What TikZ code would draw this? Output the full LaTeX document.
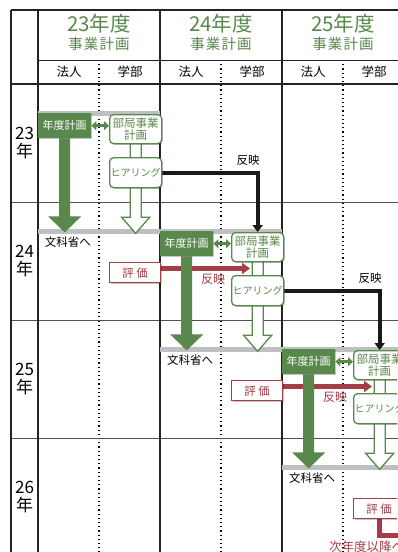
\documentclass[tikz,border=0pt]{standalone}
\usepackage{fontspec}
\setmainfont{Noto Sans CJK JP}
\newfontfamily\hdrfont[LetterSpace=8]{Noto Sans CJK JP}
\usetikzlibrary{arrows.meta,shadows,calc}
\pgfdeclarelayer{bg}
\pgfdeclarelayer{mid}
\pgfsetlayers{bg,mid,main}
\definecolor{grn}{RGB}{89,136,76}
\definecolor{rd}{RGB}{163,62,70}
\definecolor{bandc}{RGB}{190,191,194}
\definecolor{framec}{RGB}{35,35,35}
\definecolor{rowc}{RGB}{80,80,80}
\begin{document}
\begin{tikzpicture}[x=1pt,y=-1pt,
  shad/.style={drop shadow={shadow xshift=1.2pt,shadow yshift=-1.2pt,opacity=0.22,fill=black}},
  nenbox/.style={fill=grn,text=white,minimum width=53pt,minimum height=25pt,inner sep=0pt,
    font=\fontsize{11}{12}\selectfont,shad,anchor=north west},
  bubox/.style={draw=grn,line width=1.3pt,fill=white,rounded corners=4pt,minimum width=52pt,
    minimum height=29pt,inner sep=0pt,align=center,text=grn,
    font=\fontsize{11.5}{12}\selectfont,shad,anchor=north west},
  hibox/.style={bubox,minimum height=30pt,font=\fontsize{10}{11}\selectfont},
  hyobox/.style={draw=rd,line width=1.3pt,fill=white,text=rd,minimum width=51pt,minimum height=20pt,
    inner sep=0pt,font=\fontsize{11.5}{12}\selectfont,shad,anchor=north west},
  txt/.style={inner sep=0pt,font=\fontsize{11.5}{12}\selectfont},
  rtxt/.style={txt,text=rd,font=\fontsize{12}{12}\selectfont},
  hdr/.style={inner sep=0pt,text=grn,font=\fontsize{20.5}{22}\selectfont},
  hdrsub/.style={inner sep=0pt,text=grn,font=\fontsize{14.5}{15}\hdrfont},
  subh/.style={inner sep=0pt,font=\fontsize{12.5}{13}\selectfont},
  rowlab/.style={inner sep=0pt,align=center,font=\fontsize{17}{18}\selectfont},
  frm/.style={draw=framec,line width=1.8pt},
  dotl/.style={draw=black,line width=1.3pt,dash pattern=on 1.2pt off 3pt},
  blkarr/.style={draw=black!90,line width=4pt,line join=miter,-{Triangle[length=7pt,width=10pt]}},
  redarr/.style={draw=rd,line width=4.5pt,-{Triangle[length=8pt,width=11pt]}},
  dblarr/.style={draw=grn,line width=3pt,{Triangle[length=5pt,width=9pt]}-{Triangle[length=5pt,width=9pt]}},
]
\useasboundingbox (0,0) rectangle (397,552);
\clip (0,0) rectangle (397,552);

% ---------- grid ----------
\begin{pgfonlayer}{bg}
  \fill[white] (0,0) rectangle (397,552);
  \foreach \x in {99,221,343} \draw[dotl] (\x,60) -- (\x,560);
  \foreach \y in {202,320,438} \draw[rowc,line width=1pt] (11,\y) -- (420,\y);
  \draw[framec,line width=1pt] (38,60) -- (420,60);
  \draw[framec,line width=2pt] (11,84) -- (420,84);
  \draw[framec,line width=2pt] (11,10) -- (420,10);
  \foreach \x in {11,38,160,282,404} \draw[frm] (\x,10) -- (\x,560);
  \foreach \k in {0,1,2}{
    \pgfmathsetmacro\dx{122*\k}
    \pgfmathsetmacro\dy{118*\k}
    \fill[bandc] ({38+\dx},{111+\dy}) rectangle ({160+\dx},{116+\dy});
    \fill[bandc] ({38+\dx},{229+\dy}) rectangle ({160+\dx},{234+\dy});
  }
\end{pgfonlayer}

% ---------- headers ----------
\foreach \k/\yr in {0/23,1/24,2/25}{
  \node[hdr] (hy\k) at ({99+122*\k},24) {\yr 年度};
  \node[hdrsub] (hs\k) at ({99+122*\k},44) {事業計画};
  \node[subh] (hh\k) at ({69+122*\k},72) {法人};
  \node[subh] (hg\k) at ({130+122*\k},72) {学部};
}
\foreach \j/\yr in {0/23,1/24,2/25,3/26}{
  \node[rowlab] (rl\j) at (24.5,{143+118*\j}) {\yr\\年};
}

% ---------- boxes ----------
\foreach \k in {0,1,2}{
  \pgfmathsetmacro\dx{122*\k}
  \pgfmathsetmacro\dy{118*\k}
  \node[nenbox] (nen\k) at ({38+\dx},{113+\dy}) {年度計画};
  \node[bubox] (bu\k) at ({109+\dx},{114+\dy}) {部局事業\\計画};
  \node[hibox] (hi\k) at ({109+\dx},{157+\dy}) {ヒアリング};
  \node[txt] (mon\k) at ({68+\dx},{242+\dy}) {文科省へ};
}
\foreach \j in {1,2,3}{
  \pgfmathsetmacro\dx{122*(\j-1)}
  \pgfmathsetmacro\dy{118*(\j-1)}
  \node[hyobox] (hyo\j) at ({109+\dx},{262+\dy}) {評\hspace{2.5pt}価};
}

% ---------- arrows ----------
\begin{pgfonlayer}{mid}
  % red evaluation arrows
  \foreach \j in {1,2}{
    \pgfmathsetmacro\dx{122*(\j-1)}
    \pgfmathsetmacro\dy{118*(\j-1)}
    \coordinate (rt\j) at ({250+\dx},{268.5+\dy});
    \draw[redarr] (hyo\j.east |- rt\j) -- (rt\j);
    \node[rtxt] (rh\j) at ({213+\dx},{279+\dy}) {反映};
  }
  \coordinate (nextc) at (430,535);
  \draw[draw=rd,line width=5pt,line join=miter] (hyo3.south) |- (nextc);
  \node[rtxt,anchor=west,font=\fontsize{12.5}{13}\selectfont] (nx) at (329,547) {次年度以降へ};
  % green arrows
  \foreach \k in {0,1,2}{
    \fill[grn] (nen\k.south) ++(-5.5,0) -- ++(0,78) -- ++(-11,0) -- ++(16.5,16)
       -- ++(16.5,-16) -- ++(-11,0) -- ++(0,-78) -- cycle;
    \filldraw[fill=white,draw=grn,line width=1.3pt,line join=miter] (bu\k.south) ++(-5.5,-2)
       -- ++(0,75) -- ++(-8.5,0) -- ++(14,16) -- ++(14,-16) -- ++(-8.5,0) -- ++(0,-75) -- cycle;
    \draw[dblarr] (nen\k.east) -- (nen\k.east -| bu\k.west);
  }
  % black reflection arrows
  \foreach \k/\n in {0/1,1/2}{
    \pgfmathsetmacro\dx{122*\k}
    \pgfmathsetmacro\dy{118*\k}
    \draw[blkarr] (hi\k.east) -| (bu\n.north);
    \node[txt] (bh\k) at ({248+\dx},{160+\dy}) {反映};
  }
\end{pgfonlayer}
\end{tikzpicture}
\end{document}
